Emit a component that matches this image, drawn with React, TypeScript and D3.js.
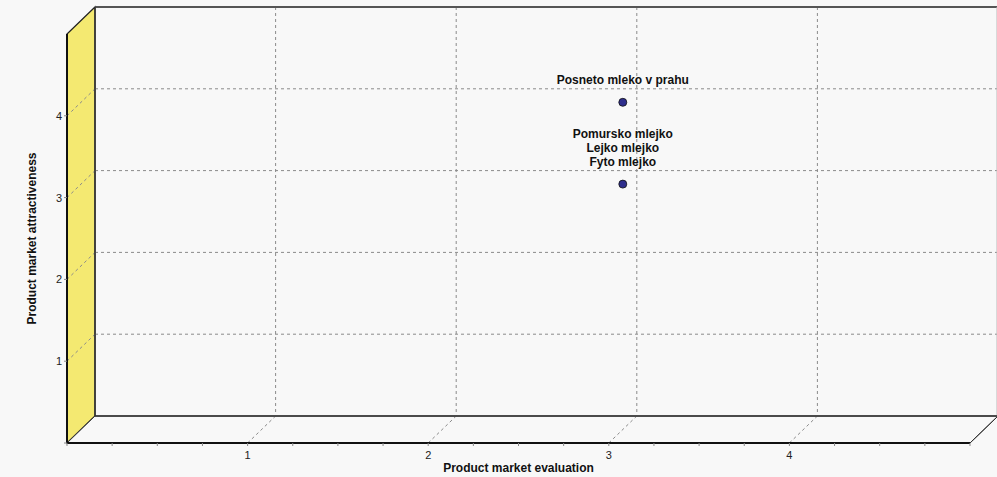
import React from "react";
import * as d3 from "d3";

const xTicks = [1, 2, 3, 4];
const yTicks = [1, 2, 3, 4];
const xMinorTicks = d3.range(0, 5.01, 0.25);
const pointNames = [
  "Posneto mleko v prahu",
  "Pomursko mlejko",
  "Lejko mlejko",
  "Fyto mlejko",
];
const pointX = [3, 3, 3, 3];
const pointY = [4, 3, 3, 3];
const xTitle = "Product market evaluation";
const yTitle = "Product market attractiveness";

const W = 997;
const H = 477;
const DX = 28;
const DY = -27;

export default function App() {
  const xF = d3.scaleLinear().domain([0, 5]).range([67, 970]);
  const yF = d3.scaleLinear().domain([0, 5]).range([443, 34]);
  const x0 = xF(0), x1 = xF(5), y0 = yF(0), y1 = yF(5);
  const bx0 = x0 + DX, bx1 = x1 + DX, by0 = y0 + DY, by1 = y1 + DY;
  const grid = "#8a8a8a";
  const dash = "3,3";

  // group points by position for stacked labels
  const groups = d3.groups(
    pointNames.map((n, i) => ({ n, x: pointX[i], y: pointY[i] })),
    (d) => `${d.x}_${d.y}`
  );

  const font = "Arial, 'Liberation Sans', sans-serif";

  return (
    <svg
      width={W}
      height={H}
      style={{ position: "absolute", left: 0, top: 0, background: "#f8f8f8" }}
      fontFamily={font}
    >
      <rect x={0} y={0} width={W} height={H} fill="#f8f8f8" />
      {/* back wall */}
      <rect x={bx0} y={by1} width={bx1 - bx0} height={by0 - by1} fill="#f8f8f8" />
      {/* left wall */}
      <polygon
        points={`${x0},${y1} ${bx0},${by1} ${bx0},${by0} ${x0},${y0}`}
        fill="#f4e971"
        stroke="#222"
        strokeWidth={1.2}
      />
      {/* floor */}
      <polygon
        points={`${x0},${y0} ${bx0},${by0} ${bx1},${by0} ${x1},${y0}`}
        fill="#f8f8f8"
        stroke="#333"
        strokeWidth={1}
      />
      {/* gridlines back wall */}
      {yTicks.map((v) => (
        <g key={"gy" + v}>
          <line x1={bx0} x2={bx1} y1={yF(v) + DY} y2={yF(v) + DY} stroke={grid} strokeDasharray={dash} strokeWidth={1} />
          <line x1={x0} x2={bx0} y1={yF(v)} y2={yF(v) + DY} stroke={grid} strokeDasharray={dash} strokeWidth={1} />
        </g>
      ))}
      {xTicks.map((v) => (
        <g key={"gx" + v}>
          <line x1={xF(v) + DX} x2={xF(v) + DX} y1={by1} y2={by0} stroke={grid} strokeDasharray={dash} strokeWidth={1} />
          <line x1={xF(v)} x2={xF(v) + DX} y1={y0} y2={by0} stroke={grid} strokeDasharray={dash} strokeWidth={1} />
        </g>
      ))}
      {/* back wall edges */}
      <line x1={bx0} x2={bx1} y1={by1} y2={by1} stroke="#555" strokeWidth={2} />
      <line x1={bx1 - 1} x2={bx1 - 1} y1={by1} y2={by0} stroke="#bbb" strokeWidth={1} />
      <line x1={bx0} x2={bx0} y1={by1} y2={by0} stroke="#333" strokeWidth={1.5} />
      <line x1={bx0} x2={bx1} y1={by0} y2={by0} stroke="#333" strokeWidth={1.5} />
      {/* front axes */}
      <line x1={x0} x2={x0} y1={y1} y2={y0} stroke="#111" strokeWidth={2} />
      <line x1={x0} x2={x1} y1={y0} y2={y0} stroke="#111" strokeWidth={2} />
      <line x1={x1} x2={bx1} y1={y0} y2={by0} stroke="#333" strokeWidth={1} />
      {/* x ticks */}
      {xMinorTicks.map((v) => (
        <line key={"xm" + v} x1={xF(v)} x2={xF(v)} y1={y0} y2={y0 + 3} stroke="#888" strokeWidth={1} />
      ))}
      {xTicks.map((v) => (
        <text key={"xl" + v} x={xF(v)} y={y0 + 16} textAnchor="middle" fontSize={11} fill="#222">
          {v}
        </text>
      ))}
      {/* y ticks */}
      {[0, ...yTicks].map((v) => (
        <line key={"yt" + v} x1={x0 - 3} x2={x0} y1={yF(v)} y2={yF(v)} stroke="#888" strokeWidth={1} />
      ))}
      {yTicks.map((v) => (
        <text key={"yl" + v} x={x0 - 5} y={yF(v) + 4} textAnchor="end" fontSize={11} fill="#222">
          {v}
        </text>
      ))}
      {/* points */}
      {groups.map(([key, items]) => {
        const px = xF(items[0].x) + DX / 2;
        const py = yF(items[0].y) + DY / 2;
        return (
          <g key={key}>
            <circle cx={px} cy={py} r={4} fill="#2e2e8c" stroke="#111" strokeWidth={0.8} />
            {items.map((it, i) => (
              <text
                key={it.n}
                x={px}
                y={py - 18 - (items.length - 1 - i) * 14}
                textAnchor="middle"
                fontSize={12}
                fontWeight="bold"
                fill="#111"
              >
                {it.n}
              </text>
            ))}
          </g>
        );
      })}
      {/* axis titles */}
      <text x={(x0 + x1) / 2} y={472} textAnchor="middle" fontSize={12} fontWeight="bold" fill="#111">
        {xTitle}
      </text>
      <text
        transform={`translate(36,${(y0 + y1) / 2 + 0}) rotate(-90)`}
        textAnchor="middle"
        fontSize={12}
        fontWeight="bold"
        fill="#111"
      >
        {yTitle}
      </text>
    </svg>
  );
}
